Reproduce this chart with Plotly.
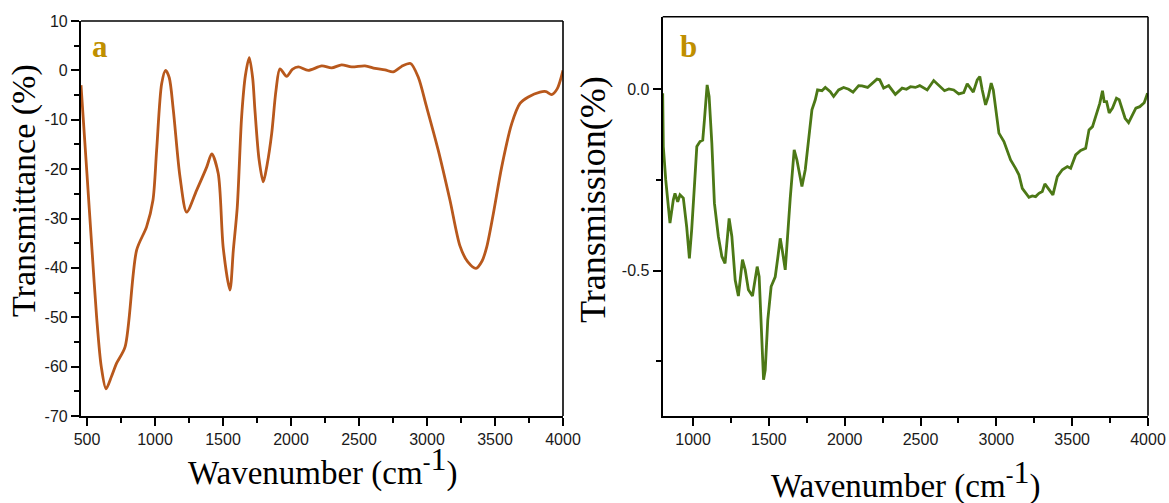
import plotly.graph_objects as go

# FTIR spectrum (a): wavenumber (cm^-1) vs transmittance (%)
wn_a = [456, 500, 537, 571, 605, 640, 680, 718, 780, 865, 938, 985, 1012, 1049, 1078,
        1105, 1135, 1184, 1233, 1306, 1380, 1417, 1465, 1502, 1551, 1576, 1605, 1637,
        1665, 1693, 1718, 1735, 1765, 1796, 1825, 1858, 1890, 1919, 1968, 2010, 2054,
        2127, 2226, 2299, 2372, 2446, 2544, 2618, 2691, 2752, 2813, 2879, 2936, 2997,
        3083, 3169, 3243, 3300, 3360, 3405, 3439, 3488, 3549, 3623, 3684, 3745, 3831,
        3875, 3917, 3958, 4000]
tr_a = [-3, -21, -36.4, -50, -60, -64.5, -62, -59.3, -56, -36.4, -31.7, -26.3, -16.2,
        -2.7, 0, -1.5, -8.1, -21.6, -28.7, -24.3, -19.6, -16.9, -20.9, -36, -44.5, -36.4,
        -27.7, -9.4, -1, 2.6, -1.5, -8.1, -18, -22.6, -19, -12.8, -4, 0.3, -1.2, 0.2, 0.7,
        0, 0.9, 0.5, 1.1, 0.7, 0.9, 0.4, 0.1, -0.3, 0.8, 1.4, -1.4, -7.4, -16.2, -26.3,
        -35.6, -38.8, -40.1, -38.6, -35.8, -29, -19.6, -10.8, -6.7, -5.4, -4.4, -4.3, -4.9,
        -3.7, 0]
ticks_a_y = [10, 0, -10, -20, -30, -40, -50, -60, -70]

# FTIR spectrum (b): wavenumber (cm^-1) vs transmission
wn_b = [800, 804, 820, 848, 870, 881, 899, 914, 936, 958, 976, 991, 1009, 1025, 1046,
        1064, 1075, 1093, 1106, 1124, 1141, 1167, 1190, 1211, 1227, 1238, 1256, 1278,
        1299, 1317, 1326, 1344, 1365, 1392, 1410, 1423, 1436, 1449, 1465, 1476, 1493,
        1515, 1542, 1560, 1575, 1590, 1608, 1641, 1667, 1685, 1718, 1740, 1762, 1784,
        1806, 1821, 1850, 1872, 1905, 1927, 1960, 1993, 2026, 2055, 2092, 2114, 2151,
        2180, 2213, 2231, 2257, 2290, 2334, 2379, 2407, 2434, 2466, 2495, 2544, 2587,
        2620, 2658, 2687, 2719, 2752, 2785, 2808, 2830, 2848, 2874, 2891, 2907, 2929,
        2947, 2966, 2980, 2995, 3017, 3050, 3072, 3094, 3127, 3149, 3171, 3198, 3215,
        3237, 3259, 3281, 3303, 3320, 3343, 3373, 3402, 3435, 3468, 3490, 3523, 3556,
        3589, 3611, 3634, 3656, 3682, 3700, 3711, 3727, 3744, 3766, 3792, 3810, 3826,
        3849, 3872, 3894, 3920, 3946, 3975, 3997]
tr_b = [-0.011, -0.158, -0.25, -0.369, -0.305, -0.287, -0.31, -0.291, -0.30, -0.379,
        -0.466, -0.388, -0.268, -0.158, -0.144, -0.14, -0.085, 0.012, -0.02, -0.149,
        -0.314, -0.406, -0.461, -0.48, -0.406, -0.356, -0.406, -0.526, -0.57, -0.489,
        -0.47, -0.498, -0.553, -0.57, -0.517, -0.489, -0.517, -0.645, -0.801, -0.774,
        -0.636, -0.544, -0.517, -0.461, -0.411, -0.448, -0.498, -0.30, -0.167, -0.195,
        -0.268, -0.222, -0.14, -0.057, -0.029, -0.002, -0.004, 0.005, -0.007, -0.02,
        -0.002, 0.005, 0.0, -0.008, 0.01, 0.009, 0.005, 0.017, 0.028, 0.026, 0.003,
        0.01, -0.014, 0.003, 0.0, 0.007, 0.005, 0.01, -0.002, 0.024, 0.012, -0.004,
        0.001, -0.002, -0.013, -0.009, 0.015, 0.003, -0.008, 0.026, 0.035, -0.002,
        -0.043, -0.02, 0.017, -0.002, -0.057, -0.121, -0.144, -0.167, -0.195, -0.218,
        -0.236, -0.273, -0.287, -0.298, -0.294, -0.296, -0.287, -0.282, -0.261, -0.273,
        -0.291, -0.241, -0.222, -0.213, -0.218, -0.181, -0.169, -0.163, -0.112, -0.103,
        -0.071, -0.039, -0.004, -0.034, -0.034, -0.065, -0.052, -0.025, -0.029, -0.052,
        -0.08, -0.092, -0.075, -0.052, -0.048, -0.037, -0.011]
ticks_b_y = [0.0, -0.5]

SERIF = "Liberation Serif, Times New Roman, serif"
SANS = "Liberation Sans, Arial, sans-serif"

fig = go.Figure()
fig.add_trace(go.Scatter(x=wn_a, y=tr_a, mode="lines",
                         line=dict(color="#B8581C", width=2.8, shape="spline", smoothing=0.8),
                         xaxis="x", yaxis="y", showlegend=False, hoverinfo="skip"))
fig.add_trace(go.Scatter(x=wn_b, y=tr_b, mode="lines",
                         line=dict(color="#4C7816", width=2.8),
                         xaxis="x2", yaxis="y2", showlegend=False, hoverinfo="skip"))

W, H = 1169, 503
dom_ax = [81 / W, 563 / W]
dom_ay = [1 - 416 / H, 1 - 21 / H]
dom_bx = [662.7 / W, 1148 / W]
dom_by = [1 - 415.7 / H, 1 - 16.7 / H]

axis_common = dict(showgrid=False, zeroline=False, showline=True, linecolor="black",
                   linewidth=2.2, ticks="outside", ticklen=8, tickwidth=2, tickcolor="black",
                   tickfont=dict(family=SANS, size=16, color="#1a1a1a"), mirror=False,
                   automargin=False)
minor_common = dict(ticks="outside", ticklen=5, tickwidth=2, tickcolor="black", showgrid=False)

fig.update_layout(
    width=W, height=H, margin=dict(l=0, r=0, t=0, b=0, autoexpand=False),
    paper_bgcolor="white", plot_bgcolor="white",
    xaxis=dict(domain=dom_ax, range=[456, 4000], anchor="y", tick0=500, dtick=500,
               minor=dict(dtick=250, tick0=250, **minor_common), **axis_common),
    yaxis=dict(domain=dom_ay, range=[-70, 10], anchor="x",
               tickvals=ticks_a_y, ticktext=[f"{v:d}" for v in ticks_a_y],
               minor=dict(dtick=5, tick0=5, **minor_common), **axis_common),
    xaxis2=dict(domain=dom_bx, range=[800, 4000], anchor="y2", tick0=500, dtick=500,
                minor=dict(dtick=250, tick0=250, **minor_common), **axis_common),
    yaxis2=dict(domain=dom_by, range=[-0.9, 0.2], anchor="x2",
                tickvals=ticks_b_y, ticktext=[f"{v:.1f}" for v in ticks_b_y],
                minor=dict(tickvals=[-0.25, -0.75], **minor_common), **axis_common),
)

# thinner top and right frame lines
for xd, yd in [(dom_ax, dom_ay), (dom_bx, dom_by)]:
    fig.add_shape(type="line", xref="paper", yref="paper", x0=xd[0], x1=xd[1], y0=yd[1], y1=yd[1],
                  line=dict(color="black", width=1.6))
    fig.add_shape(type="line", xref="paper", yref="paper", x0=xd[1], x1=xd[1], y0=yd[0], y1=yd[1],
                  line=dict(color="black", width=1.6))

title_font = dict(family=SERIF, size=33, color="black")
xtitle = "Wavenumber (cm<sup>-<span style='font-size:32px'>1</span></sup>)"
fig.add_annotation(text=xtitle, xref="paper", yref="paper", x=322 / W, y=1 - 466 / H,
                   xanchor="center", yanchor="middle", showarrow=False, font=title_font)
fig.add_annotation(text=xtitle, xref="paper", yref="paper", x=905 / W, y=-4 / H,
                   xanchor="center", yanchor="bottom", showarrow=False, font=title_font)
fig.add_annotation(text="Transmittance (%)", xref="paper", yref="paper", x=24 / W, y=1 - 191 / H,
                   xanchor="center", yanchor="middle", textangle=-90, showarrow=False,
                   font=dict(family=SERIF, size=34, color="black"))
fig.add_annotation(text="Transmission(%)", xref="paper", yref="paper", x=593 / W, y=1 - 200 / H,
                   xanchor="center", yanchor="middle", textangle=-90, showarrow=False,
                   font=dict(family=SERIF, size=36, color="black"))

panel_font = dict(family=SERIF, size=31, color="#BF8F00")
fig.add_annotation(text="<b>a</b>", xref="paper", yref="paper", x=100 / W, y=1 - 47 / H,
                   xanchor="center", yanchor="middle", showarrow=False, font=panel_font)
fig.add_annotation(text="<b>b</b>", xref="paper", yref="paper", x=688 / W, y=1 - 47 / H,
                   xanchor="center", yanchor="middle", showarrow=False, font=panel_font)

fig.write_html("out.html")
